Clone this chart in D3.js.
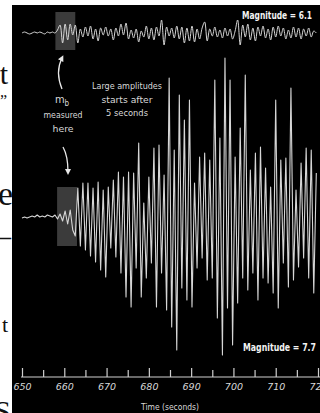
<!DOCTYPE html>
<html>
<head>
<meta charset="utf-8">
<script src="https://cdn.jsdelivr.net/npm/d3@7"></script>
<style>
  html, body { margin: 0; padding: 0; background: #fff; }
  svg { display: block; }
</style>
</head>
<body>
<svg id="chart" width="320" height="413"></svg>
<script>
// Two seismograms sampled every 0.6 s from t = 650 s (amplitudes in display units)
const traceStart = 650;
const sampleStep = 0.6;

// Magnitude 6.1 event
const smallQuake = [
  0, 1, 0, -1, 0, 1, 0, 1, 0, -1, 1, 0, 1, 0,
  3, 8, -10, 9, -7, 9, -2, 8, -10, 4, -4, 6, -3, 7, -6, 4,
  -8, 5, -2, 6, -3, 4, -7, 5, -3, 9, -2, 10, -6, 3, -5, 4,
  -9, 2, -4, 7, -6, 5, -7, 6, -3, 13, -12, 6, -3, 5, -5, 7,
  -6, 6, -10, 5, -8, 7, -9, 4, -6, 5, 11, -8, 4, -3, 6, -4,
  3, -5, 5, -3, 4, -6, 2, 13, -12, 8, -4, 9, -7, 5, -8, 6,
  -3, 7, -5, 4, -7, 6, -4, 7, -3, 5, -6, 3, -5, 6, -4, 5,
  -6, 4, -3, 5, -4, 2, 0
];

// Magnitude 7.7 event
const largeQuake = [
  0, 1, 0, 1, 2, 1, 3, 1, 2, 1, 3, 2, 1, 3,
  -1, 4, -3, 7, -6, 8, -12, -18, 30, -28, 35, -32, 35, -38, 30, -44,
  36, -52, 28, -59, 31, -30, 38, -39, 46, -55, 41, -79, 46, -89, 45, -50,
  75, -79, 15, -60, 41, -45, 70, -89, 73, -55, 43, -92, 140, -109, 68, -132,
  123, -70, 98, -82, 118, -89, 35, -50, 61, -40, 65, -62, 58, -60, 138, -100,
  80, -137, 160, -90, 138, -127, 61, -85, 90, -60, 143, -72, 48, -55, 65, -82,
  71, -60, 50, -65, 31, -75, 118, -90, 58, -45, 60, -69, 130, -62, 28, -49,
  55, -40, 70, -60, 68, -75, 45
];

const tickValues = [650, 660, 670, 680, 690, 700, 710, 720];
const minorTickValues = [655, 665, 675, 685, 695, 705, 715];
const mbWindowSmall = [657.9, 662.6];
const mbWindowLarge = [658.3, 663.0];
const axisTitle = "Time (seconds)";
const smallLabel = "Magnitude = 6.1";
const largeLabel = "Magnitude = 7.7";
const onsetNote = ["Large amplitudes", "starts after", "5 seconds"];
const mbNote = ["measured", "here"];

const svg = d3.select("#chart");
const W = 320, H = 413;

// Edge of the neighbouring slide text, cut off by the figure
const serif = "'Liberation Serif', 'DejaVu Serif', serif";
const edgeText = [
  { t: "t", x: 8, y: 84, s: 30 },
  { t: "\u201D", x: 7, y: 106, s: 16 },
  { t: "e", x: 13, y: 205, s: 34 },
  { t: "\u2013", x: 11, y: 246, s: 30 },
  { t: "t", x: 8, y: 332, s: 22 },
  { t: "S", x: 11, y: 421, s: 30 }
];
svg.selectAll("text.edge").data(edgeText).join("text")
  .attr("class", "edge")
  .attr("x", d => d.x).attr("y", d => d.y)
  .attr("text-anchor", "end")
  .attr("font-family", serif)
  .attr("font-size", d => d.s)
  .attr("fill", "#111")
  .text(d => d.t);

// Black figure panel
svg.append("rect").attr("x", 12).attr("y", 5).attr("width", W - 12).attr("height", H - 5).attr("fill", "#000");

const x = d3.scaleLinear().domain([650, 720]).range([22, 318]);
const yTop = d3.scaleLinear().domain([-20, 20]).range([53, 13]);
const yBottom = d3.scaleLinear().domain([-160, 160]).range([378, 58]);

const tOf = i => traceStart + i * sampleStep;

// Body-wave windows where mb is measured
svg.append("rect")
  .attr("x", x(mbWindowSmall[0])).attr("width", x(mbWindowSmall[1]) - x(mbWindowSmall[0]))
  .attr("y", 12).attr("height", 38).attr("fill", "#3b3b3b");
svg.append("rect")
  .attr("x", x(mbWindowLarge[0])).attr("width", x(mbWindowLarge[1]) - x(mbWindowLarge[0]))
  .attr("y", 187).attr("height", 59).attr("fill", "#3b3b3b");

const traceColor = "#d6d6d6";

const lineTop = d3.line()
  .x((d, i) => x(tOf(i)))
  .y(d => yTop(d))
  .curve(d3.curveCatmullRom.alpha(0.5));
svg.append("path").datum(smallQuake)
  .attr("d", lineTop).attr("fill", "none")
  .attr("stroke", traceColor).attr("stroke-width", 1).attr("stroke-linejoin", "round");

const lineBottom = d3.line()
  .x((d, i) => x(tOf(i)))
  .y(d => yBottom(d));
svg.append("path").datum(largeQuake)
  .attr("d", lineBottom).attr("fill", "none")
  .attr("stroke", traceColor).attr("stroke-width", 1.1).attr("stroke-linejoin", "round");

// Annotations
const hand = "'DejaVu Sans Condensed', 'DejaVu Sans', sans-serif";
svg.append("text").attr("x", 312).attr("y", 19).attr("text-anchor", "end")
  .attr("font-family", hand).attr("font-weight", "bold").attr("font-size", 11)
  .attr("fill", "#f2f2f2").attr("textLength", 70).attr("lengthAdjust", "spacingAndGlyphs")
  .text(smallLabel);
svg.append("text").attr("x", 316).attr("y", 351).attr("text-anchor", "end")
  .attr("font-family", hand).attr("font-weight", "bold").attr("font-size", 11)
  .attr("fill", "#f2f2f2").attr("textLength", 73).attr("lengthAdjust", "spacingAndGlyphs")
  .text(largeLabel);

const note = svg.append("g").attr("font-family", hand).attr("font-size", 9.5)
  .attr("fill", "#d8d8d8").attr("text-anchor", "middle");
const onsetWidths = [70, 51, 42];
onsetNote.forEach((s, i) => {
  note.append("text").attr("x", 127).attr("y", 89 + i * 13.5)
    .attr("textLength", onsetWidths[i]).attr("lengthAdjust", "spacingAndGlyphs").text(s);
});

const mb = note.append("text").attr("x", 62).attr("y", 103);
mb.append("tspan").attr("font-size", 11).text("m");
mb.append("tspan").attr("dy", 3).attr("font-size", 8).text("b");
const mbWidths = [39, 21];
mbNote.forEach((s, i) => {
  note.append("text").attr("x", 63).attr("y", 118 + i * 13.5)
    .attr("textLength", mbWidths[i]).attr("lengthAdjust", "spacingAndGlyphs").text(s);
});

// Arrows
const defs = svg.append("defs");
defs.append("marker").attr("id", "head")
  .attr("viewBox", "0 0 10 10").attr("refX", 5).attr("refY", 5)
  .attr("markerWidth", 6).attr("markerHeight", 6).attr("orient", "auto-start-reverse")
  .attr("markerUnits", "userSpaceOnUse")
  .append("path").attr("d", "M0,0 L10,5 L0,10 Z").attr("fill", "#e8e8e8");
svg.append("path").attr("d", "M62,89 Q55,72 62,58")
  .attr("fill", "none").attr("stroke", "#e8e8e8").attr("stroke-width", 1.3)
  .attr("marker-end", "url(#head)");
svg.append("path").attr("d", "M63,147 Q68,156 68,172")
  .attr("fill", "none").attr("stroke", "#e8e8e8").attr("stroke-width", 1.3)
  .attr("marker-end", "url(#head)");

// Time axis
const axisY = 377;
const axisG = svg.append("g").attr("transform", `translate(0,${axisY})`);
axisG.append("line").attr("x1", x(650) - 1).attr("x2", W).attr("y1", 0).attr("y2", 0)
  .attr("stroke", "#cfcfcf").attr("stroke-width", 1.2);
const major = d3.axisBottom(x).tickValues(tickValues).tickSizeInner(-9).tickSizeOuter(0)
  .tickPadding(6).tickFormat(d3.format("d"));
const majorG = axisG.append("g").call(major);
const minor = d3.axisBottom(x).tickValues(minorTickValues).tickSizeInner(-7).tickSizeOuter(0)
  .tickFormat("");
const minorG = axisG.append("g").call(minor);
[majorG, minorG].forEach(g => {
  g.select(".domain").remove();
  g.selectAll(".tick line").attr("stroke", "#cfcfcf").attr("stroke-width", 1.2);
});
majorG.selectAll(".tick text")
  .attr("fill", "#d8d8d8").attr("font-family", "'DejaVu Sans', sans-serif")
  .attr("font-style", "italic").attr("font-size", 9.5);

svg.append("text").attr("x", 170).attr("y", 410).attr("text-anchor", "middle")
  .attr("font-family", hand).attr("font-size", 9).attr("fill", "#d8d8d8")
  .attr("textLength", 58).attr("lengthAdjust", "spacingAndGlyphs")
  .text(axisTitle);
</script>
</body>
</html>
